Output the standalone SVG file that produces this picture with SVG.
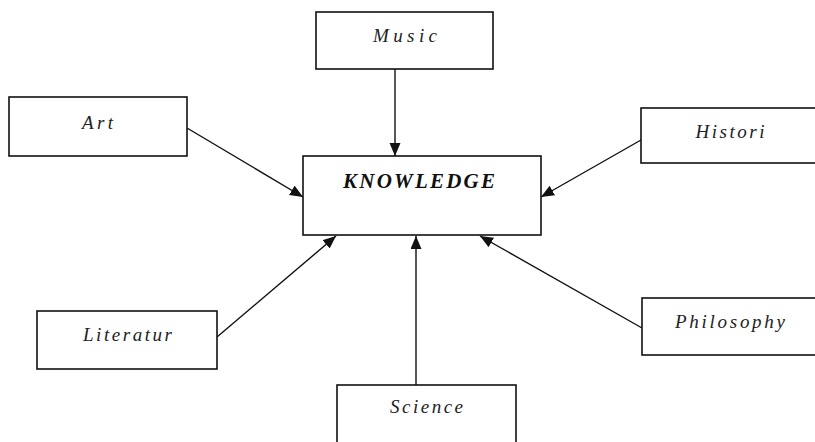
<svg xmlns="http://www.w3.org/2000/svg" width="815" height="442" viewBox="0 0 815 442">
<style>
.box{fill:#fff;stroke:#111;stroke-width:1.6}
.lbl{font-family:"Liberation Serif","Times New Roman",serif;font-style:italic;font-size:19px;fill:#222;text-anchor:middle}
.main{font-family:"Liberation Serif","Times New Roman",serif;font-style:italic;font-weight:bold;font-size:21px;fill:#111;text-anchor:middle}
.con{stroke:#111;stroke-width:1.4;fill:none}
</style>
<defs>
<marker id="ah" markerUnits="userSpaceOnUse" markerWidth="14" markerHeight="12" refX="13" refY="5.5" orient="auto">
<path d="M0,0 L13,5.5 L0,11 z" fill="#111"/>
</marker>
</defs>
<rect width="815" height="442" fill="#fff"/>
<g id="connectors">
<line class="con" x1="395" y1="69" x2="395" y2="156" marker-end="url(#ah)" stroke-width="1"/>
<line class="con" x1="187" y1="128" x2="303" y2="197" marker-end="url(#ah)"/>
<line class="con" x1="641" y1="140" x2="541" y2="197" marker-end="url(#ah)"/>
<line class="con" x1="217" y1="337" x2="336" y2="236" marker-end="url(#ah)"/>
<line class="con" x1="416" y1="385" x2="416" y2="236" marker-end="url(#ah)"/>
<line class="con" x1="642" y1="328" x2="480" y2="236" marker-end="url(#ah)"/>
</g>
<g id="knowledge">
<rect class="box" x="303" y="156" width="238" height="79"/>
<text class="main" x="419" y="188" textLength="152" lengthAdjust="spacing">KNOWLEDGE</text>
</g>
<g id="music">
<rect class="box" x="316" y="12" width="177" height="57"/>
<text class="lbl" x="405" y="42" textLength="64" lengthAdjust="spacing">Music</text>
</g>
<g id="art">
<rect class="box" x="9" y="97" width="178" height="59"/>
<text class="lbl" x="97.5" y="129" textLength="31" lengthAdjust="spacing">Art</text>
</g>
<g id="histori">
<rect class="box" x="641" y="108" width="180" height="55"/>
<text class="lbl" x="730" y="138" textLength="69" lengthAdjust="spacing">Histori</text>
</g>
<g id="literatur">
<rect class="box" x="37" y="311" width="180" height="58"/>
<text class="lbl" x="127.5" y="341" textLength="89" lengthAdjust="spacing">Literatur</text>
</g>
<g id="science">
<rect class="box" x="337" y="385" width="179" height="62"/>
<text class="lbl" x="426.5" y="413" textLength="73" lengthAdjust="spacing">Science</text>
</g>
<g id="philosophy">
<rect class="box" x="642" y="298" width="180" height="57"/>
<text class="lbl" x="730" y="328" textLength="110" lengthAdjust="spacing">Philosophy</text>
</g>
</svg>
